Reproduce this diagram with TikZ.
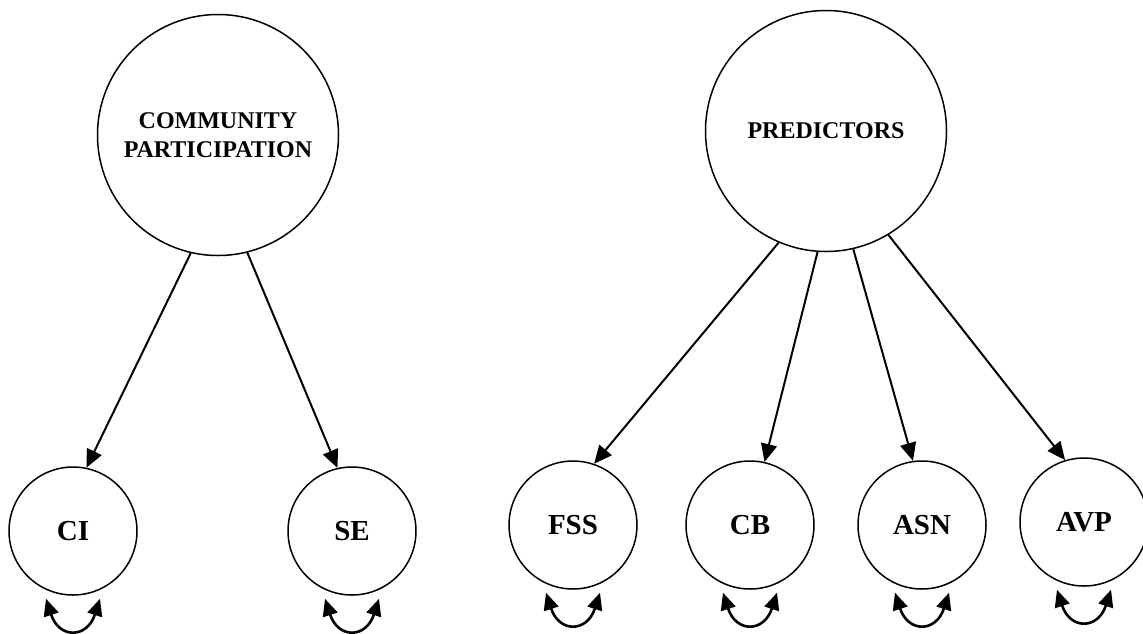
\documentclass[tikz,border=0pt]{standalone}
\usepackage{fontspec}
\setmainfont{Liberation Serif}
\usetikzlibrary{arrows.meta}
\begin{document}
\begin{tikzpicture}[x=1pt,y=-1pt,
  bigc/.style={circle,draw,line width=1.5pt,minimum size=241pt,inner sep=0pt,align=center,font=\fontsize{24}{28.5}\selectfont\bfseries},
  smallc/.style={circle,draw,line width=1.5pt,minimum size=128pt,inner sep=0pt,font=\fontsize{29}{32}\selectfont\bfseries},
  link/.style={line width=2pt,-{Triangle[length=18pt,width=16pt]}},
  selfloop/.style={line width=2.6pt,{Triangle[length=17pt,width=15pt]}-{Triangle[length=17pt,width=15pt]},out=-72,in=-108,looseness=2.0}]
\useasboundingbox (0,0) rectangle (1143,633);
\node[bigc] (cp) at (218,135) {COMMUNITY\\PARTICIPATION};
\node[bigc] (pr) at (826,131) {PREDICTORS};
\node[smallc] (ci) at (73,531) {CI};
\node[smallc] (se) at (352,531) {SE};
\node[smallc] (fss) at (573,525) {FSS};
\node[smallc] (cb) at (750,525) {CB};
\node[smallc] (asn) at (922,525) {ASN};
\node[smallc] (avp) at (1084,522) {AVP};
\draw[link] (cp.257) -- (ci.78);
\draw[link] (cp.284) -- (se.103);
\draw[link] (pr.247) -- (fss.71);
\draw[link] (pr.266) -- (cb.77);
\draw[link] (pr.283) -- (asn.98);
\draw[link] (pr.301) -- (avp.107);
\foreach \n in {ci,se,fss,cb,asn,avp}{
  \draw[selfloop] ([xshift=-27pt,yshift=-3pt]\n.south) to ([xshift=27pt,yshift=-3pt]\n.south);
}
\end{tikzpicture}
\end{document}
